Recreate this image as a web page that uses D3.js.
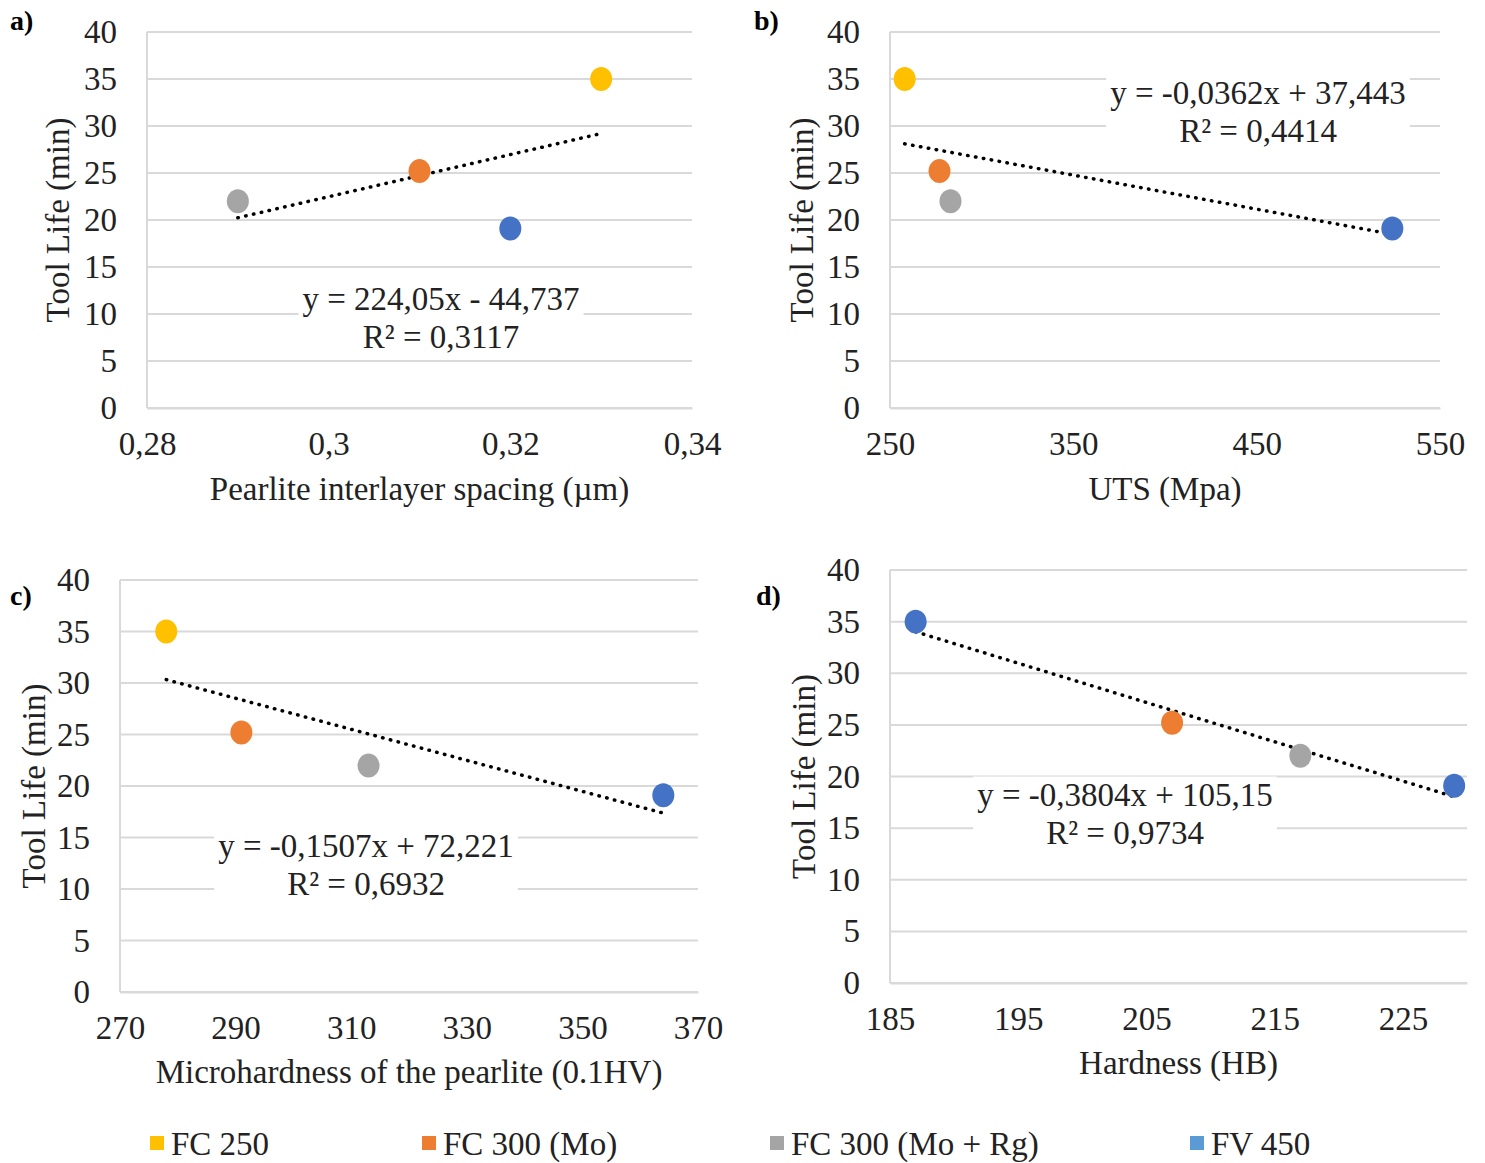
<!DOCTYPE html>
<html>
<head>
<meta charset="utf-8">
<script src="https://cdn.jsdelivr.net/npm/d3@7"></script>
<style>
  body { margin: 0; background: #fff; }
  svg { font-family: "Liberation Serif", "Times New Roman", serif; }
</style>
</head>
<body>
<svg id="chart" width="1485" height="1163"></svg>
<script>
// materials and colours
const materials = ["FC 250", "FC 300 (Mo)", "FC 300 (Mo + Rg)", "FV 450"];
const markerColors = ["#FFC000", "#ED7D31", "#A5A5A5", "#4472C4"];
const legendColors = ["#FFC000", "#ED7D31", "#A5A5A5", "#5B9BD5"];
const hardnessColors = ["#4472C4", "#ED7D31", "#A5A5A5", "#4472C4"];

// tool life (min), one per material
const toolLife = [35, 25.2, 22, 19.1];

// x values per panel
const pearliteSpacing = [0.33, 0.31, 0.29, 0.32];
const uts = [258, 277, 283, 524];
const microhardness = [278, 291, 313, 364];
const hardness = [187, 207, 217, 229];

// trendlines (slope, intercept) and their labels
const trendSlopes = [224.05, -0.0362, -0.1507, -0.3804];
const trendIntercepts = [-44.737, 37.443, 72.221, 105.15];
const trendEquations = ["y = 224,05x - 44,737", "y = -0,0362x + 37,443", "y = -0,1507x + 72,221", "y = -0,3804x + 105,15"];
const trendR2 = ["R² = 0,3117", "R² = 0,4414", "R² = 0,6932", "R² = 0,9734"];

// axes
const yTicks = [0, 5, 10, 15, 20, 25, 30, 35, 40];
const xTicksA = [0.28, 0.30, 0.32, 0.34];
const xTickLabelsA = ["0,28", "0,3", "0,32", "0,34"];
const xTicksB = [250, 350, 450, 550];
const xTicksC = [270, 290, 310, 330, 350, 370];
const xTicksD = [185, 195, 205, 215, 225];
const xTitles = ["Pearlite interlayer spacing (µm)", "UTS (Mpa)", "Microhardness of the pearlite (0.1HV)", "Hardness (HB)"];
const yTitle = "Tool Life (min)";

const svg = d3.select("#chart");
const GRID = "#d9d9d9";
const FS = 33;
const INK = "#222";

const panels = [
  { tag: "a)", tagPos: [10, 30], left: 147, right: 692, top: 32, bottom: 408, domain: [0.28, 0.34],
    xs: pearliteSpacing, ticks: xTicksA, tickLabels: xTickLabelsA, colors: markerColors,
    yTitleX: 57, xTitleY: 500, eq: [441, 298] },
  { tag: "b)", tagPos: [754, 30], left: 890, right: 1440, top: 32, bottom: 408, domain: [250, 550],
    xs: uts, ticks: xTicksB, colors: markerColors,
    yTitleX: 801, xTitleY: 500, eq: [1258, 92] },
  { tag: "c)", tagPos: [10, 605], left: 120, right: 698, top: 580, bottom: 992, domain: [270, 370],
    xs: microhardness, ticks: xTicksC, colors: markerColors,
    yTitleX: 33, xTitleY: 1083, eq: [366, 845] },
  { tag: "d)", tagPos: [756, 605], left: 890, right: 1467, top: 570, bottom: 983, domain: [185, 230],
    xs: hardness, ticks: xTicksD, colors: hardnessColors,
    yTitleX: 803, xTitleY: 1074, eq: [1125, 794] }
];

panels.forEach((p, i) => drawPanel(p, i));

function drawPanel(p, i) {
  const g = svg.append("g");
  const x = d3.scaleLinear().domain(p.domain).range([p.left, p.right]);
  const y = d3.scaleLinear().domain([0, 40]).range([p.bottom, p.top]);

  // gridlines
  g.selectAll(".grid").data(yTicks).join("line")
    .attr("x1", p.left).attr("x2", p.right)
    .attr("y1", d => y(d)).attr("y2", d => y(d))
    .attr("stroke", GRID).attr("stroke-width", 2);

  g.append("line")
    .attr("x1", p.left).attr("x2", p.left)
    .attr("y1", p.top).attr("y2", p.bottom)
    .attr("stroke", GRID).attr("stroke-width", 2);

  // y axis
  const yAxis = g.append("g")
    .attr("transform", `translate(${p.left},0)`)
    .call(d3.axisLeft(y).tickValues(yTicks).tickSize(0).tickPadding(30));
  yAxis.select(".domain").remove();
  yAxis.selectAll("text").attr("font-size", FS).attr("font-family", "Liberation Serif, serif").attr("fill", INK);

  // x axis
  const xAxis = g.append("g")
    .attr("transform", `translate(0,${p.bottom})`)
    .call(d3.axisBottom(x).tickValues(p.ticks).tickSize(0).tickPadding(24)
      .tickFormat((d, k) => p.tickLabels ? p.tickLabels[k] : d));
  xAxis.select(".domain").attr("stroke", GRID).attr("stroke-width", 2);
  xAxis.selectAll("text").attr("font-size", FS).attr("font-family", "Liberation Serif, serif").attr("fill", INK);

  // titles
  g.append("text")
    .attr("transform", `translate(${p.yTitleX},${(p.top + p.bottom) / 2}) rotate(-90)`)
    .attr("text-anchor", "middle").attr("dy", "0.35em")
    .attr("font-size", FS).attr("fill", INK)
    .text(yTitle);
  g.append("text")
    .attr("x", (p.left + p.right) / 2).attr("y", p.xTitleY)
    .attr("text-anchor", "middle")
    .attr("font-size", FS).attr("fill", INK)
    .text(xTitles[i]);

  g.append("text")
    .attr("x", p.tagPos[0]).attr("y", p.tagPos[1])
    .attr("font-size", 28).attr("font-weight", "bold")
    .text(p.tag);

  // trendline
  const xMin = d3.min(p.xs), xMax = d3.max(p.xs);
  const f = v => trendSlopes[i] * v + trendIntercepts[i];
  g.append("line")
    .attr("x1", x(xMin)).attr("y1", y(f(xMin)))
    .attr("x2", x(xMax)).attr("y2", y(f(xMax)))
    .attr("stroke", "#000").attr("stroke-width", 3.5)
    .attr("stroke-linecap", "round").attr("stroke-dasharray", "0.5 7.5");

  // points
  g.selectAll(".pt").data(p.xs).join("ellipse")
    .attr("cx", d => x(d)).attr("cy", (d, k) => y(toolLife[k]))
    .attr("rx", 11).attr("ry", 12)
    .attr("fill", (d, k) => p.colors[k]);

  // equation label with white box
  const eqG = g.append("g").attr("transform", `translate(${p.eq[0]},${p.eq[1]})`);
  const lines = [trendEquations[i], trendR2[i]];
  eqG.selectAll("text").data(lines).join("text")
    .attr("y", (d, k) => k * 38).attr("dy", "0.35em")
    .attr("text-anchor", "middle").attr("font-size", FS).attr("fill", INK)
    .text(d => d);
  const bb = eqG.node().getBBox();
  eqG.insert("rect", "text")
    .attr("x", bb.x - 4).attr("y", bb.y)
    .attr("width", bb.width + 8).attr("height", bb.height)
    .attr("fill", "#fff");
}

// legend
const legendX = [150, 422, 770, 1190];
const legend = svg.append("g").attr("transform", "translate(0,1143)");
const items = legend.selectAll("g").data(materials).join("g")
  .attr("transform", (d, k) => `translate(${legendX[k]},0)`);
items.append("rect")
  .attr("x", 0).attr("y", -7).attr("width", 14).attr("height", 14)
  .attr("fill", (d, k) => legendColors[k]);
items.append("text")
  .attr("x", 21).attr("dy", "0.35em")
  .attr("font-size", FS).attr("fill", INK)
  .text(d => d);
</script>
</body>
</html>
